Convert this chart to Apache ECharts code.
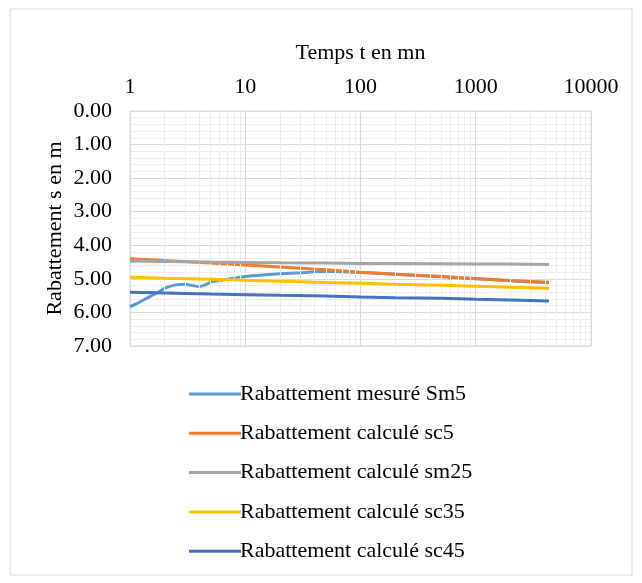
<!DOCTYPE html>
<html>
<head>
<meta charset="utf-8">
<script src="https://cdn.jsdelivr.net/npm/echarts@6/dist/echarts.min.js"></script>
<style>
  html, body { margin: 0; padding: 0; background: #fff; }
  #chart { width: 642px; height: 583px; }
</style>
</head>
<body>
<div id="chart"></div>
<script>
// time (mn) for the measured curve
const tMesure = [1, 1.2, 1.5, 1.8, 2, 2.5, 3, 3.5, 4, 4.5, 5, 6, 8, 10, 15, 20, 30, 40, 60, 100, 200, 500, 1000, 2000, 3000, 4320]
const sm5 = [5.83, 5.70, 5.52, 5.38, 5.28, 5.18, 5.16, 5.20, 5.23, 5.18, 5.10, 5.05, 4.98, 4.93, 4.88, 4.85, 4.82, 4.79, 4.78, 4.81, 4.86, 4.94, 5.00, 5.06, 5.09, 5.12]

// time (mn) for the computed curves
const tCalc = [1, 2, 5, 10, 20, 50, 100, 200, 500, 1000, 2000, 4320]
const sc5 = [4.40, 4.45, 4.53, 4.59, 4.65, 4.73, 4.80, 4.86, 4.93, 4.99, 5.05, 5.10]
const sm25 = [4.47, 4.48, 4.50, 4.51, 4.52, 4.53, 4.54, 4.54, 4.55, 4.56, 4.56, 4.57]
const sc35 = [4.95, 4.98, 5.01, 5.04, 5.07, 5.11, 5.13, 5.16, 5.19, 5.22, 5.25, 5.28]
const sc45 = [5.40, 5.42, 5.45, 5.47, 5.49, 5.51, 5.54, 5.56, 5.58, 5.61, 5.63, 5.66]

const seriesNames = [
    'Rabattement mesuré Sm5',
    'Rabattement calculé sc5',
    'Rabattement calculé sm25',
    'Rabattement calculé sc35',
    'Rabattement calculé sc45'
]
const colors = ['#5B9BD5', '#ED7D31', '#A5A5A5', '#FFC000', '#4472C4']

// minor log gridlines (2..9 in each decade)
const minorX = [2, 3, 4, 5, 6, 7, 8, 9, 20, 30, 40, 50, 60, 70, 80, 90,
    200, 300, 400, 500, 600, 700, 800, 900, 2000, 3000, 4000, 5000, 6000, 7000, 8000, 9000]

const serif = '"Liberation Serif", "DejaVu Serif", serif'

function pairs(xs, ys) {
    return xs.map((x, i) => [x, ys[i]])
}

let chart = echarts.init(document.getElementById('chart'), null, { renderer: 'canvas' })

let seriesData = [pairs(tMesure, sm5), pairs(tCalc, sc5), pairs(tCalc, sm25), pairs(tCalc, sc35), pairs(tCalc, sc45)]

let series = seriesData.map((data, i) => ({
    name: seriesNames[i],
    type: 'line',
    data: data,
    smooth: i == 0 ? 0.25 : false,
    symbol: 'none',
    z: i == 0 ? 2 : 3 + i,
    lineStyle: { color: colors[i], width: 3 },
    itemStyle: { color: colors[i] }
}))

// minor vertical gridlines drawn through the log scale
series.push({
    type: 'line',
    data: [],
    silent: true,
    z: 1,
    markLine: {
        silent: true,
        symbol: 'none',
        label: { show: false },
        lineStyle: { color: '#EDEDED', width: 1, type: 'solid' },
        data: minorX.map(v => ({ xAxis: v }))
    }
})

let options = {
    animation: false,
    color: colors,
    graphic: [{
        type: 'rect',
        shape: { x: 10, y: 9, width: 622, height: 566 },
        style: { fill: 'none', stroke: '#D9D9D9', lineWidth: 1 },
        silent: true
    }],
    grid: {
        show: true,
        left: 130,
        right: 51,
        top: 111,
        bottom: 237,
        borderColor: '#D9D9D9',
        borderWidth: 1
    },
    xAxis: {
        type: 'log',
        logBase: 10,
        min: 1,
        max: 10000,
        position: 'top',
        name: 'Temps t en mn',
        nameLocation: 'middle',
        nameGap: 47,
        nameTextStyle: { fontFamily: serif, fontSize: 22, color: '#000' },
        axisLine: { show: false },
        axisTick: { show: false },
        axisLabel: { fontFamily: serif, fontSize: 22, color: '#000', margin: 13, formatter: v => String(v) },
        splitLine: { show: true, lineStyle: { color: '#D9D9D9', width: 1 } }
    },
    yAxis: {
        type: 'value',
        inverse: true,
        min: 0,
        max: 7,
        interval: 1,
        name: 'Rabattement s en m',
        nameLocation: 'middle',
        nameGap: 64,
        nameMoveOverlap: false,
        nameTextStyle: { fontFamily: serif, fontSize: 22, color: '#000' },
        axisLine: { show: false },
        axisTick: { show: false },
        axisLabel: {
            fontFamily: serif, fontSize: 22, color: '#000', margin: 18,
            formatter: v => v.toFixed(2)
        },
        splitLine: { show: true, lineStyle: { color: '#D9D9D9', width: 1 } },
        minorTick: { show: false, splitNumber: 5 },
        minorSplitLine: { show: true, lineStyle: { color: '#EDEDED', width: 1 } }
    },
    legend: {
        show: true,
        orient: 'vertical',
        left: 184,
        top: 378,
        itemWidth: 52,
        itemHeight: 3,
        itemGap: 17.3,
        icon: 'rect',
        data: seriesNames,
        textStyle: { fontFamily: serif, fontSize: 22, color: '#000', padding: [0, 0, 0, -6] }
    },
    series: series
}

chart.setOption(options)
</script>
</body>
</html>
